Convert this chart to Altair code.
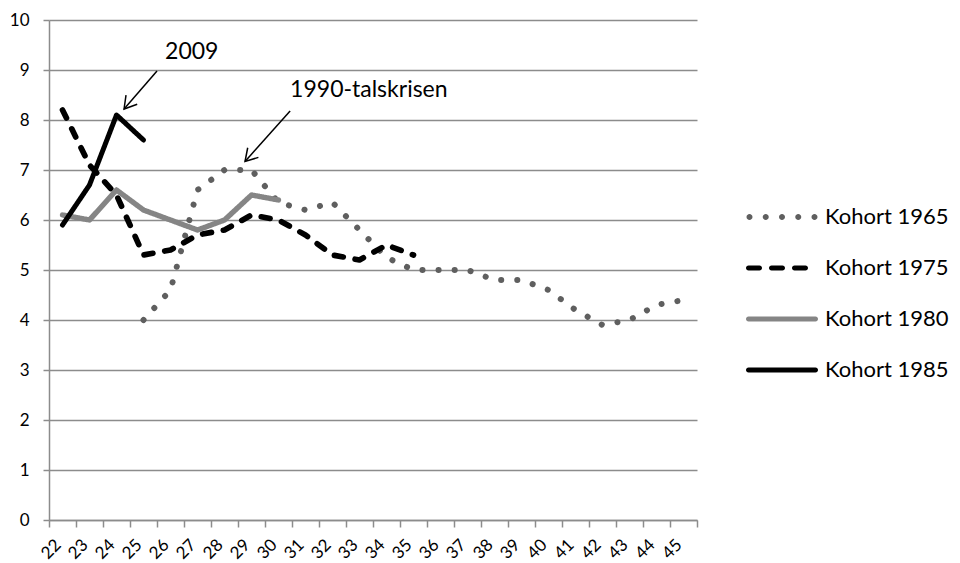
import altair as alt
import pandas as pd

# ---- data ----
series_names = ["Kohort 1965", "Kohort 1975", "Kohort 1980", "Kohort 1985"]

ages_1965 = list(range(25, 46))
vals_1965 = [4.0, 4.6, 6.6, 7.0, 7.0, 6.35, 6.2, 6.35, 5.8, 5.25, 5.0,
             5.0, 5.0, 4.8, 4.8, 4.6, 4.2, 3.9, 4.0, 4.3, 4.4]

ages_1975 = list(range(22, 36))
vals_1975 = [8.2, 7.1, 6.5, 5.3, 5.4, 5.7, 5.8, 6.1, 6.0, 5.7, 5.3, 5.2, 5.5, 5.3]

ages_1980 = list(range(22, 31))
vals_1980 = [6.1, 6.0, 6.6, 6.2, 6.0, 5.8, 6.0, 6.5, 6.4]

ages_1985 = list(range(22, 26))
vals_1985 = [5.9, 6.7, 8.1, 7.6]

y_ticks = list(range(0, 11))

# annotations (in data units)
ann_text = ["2009", "1990-talskrisen"]
ann_text_x = [25.8, 30.43]
ann_text_y = [9.36, 8.6]
ann_from_x = [25.5, 30.43]
ann_from_y = [8.98, 8.18]
ann_to_x = [24.28, 28.76]
ann_to_y = [8.22, 7.17]
ann_angle = [39, 42]

# ---- build tables ----
rows = []
for name, ages, vals in [
    (series_names[0], ages_1965, vals_1965),
    (series_names[1], ages_1975, vals_1975),
    (series_names[2], ages_1980, vals_1980),
    (series_names[3], ages_1985, vals_1985),
]:
    for a, v in zip(ages, vals):
        rows.append({"age": a, "value": v, "series": name})
df = pd.DataFrame(rows)

ann = pd.DataFrame({
    "text": ann_text, "tx": ann_text_x, "ty": ann_text_y,
    "x1": ann_from_x, "y1": ann_from_y, "x2": ann_to_x, "y2": ann_to_y,
    "angle": ann_angle,
})

FONT = "Lato"
GRID = "#8c8c8c"
colors = ["#5f5f5f", "#000000", "#858585", "#000000"]


# ---- legend swatch shapes (unit coords, 1 unit = 10 px) ----
def dot(cx, r):
    return (f"M{cx - r:.3f},0A{r},{r} 0 1,0 {cx + r:.3f},0"
            f"A{r},{r} 0 1,0 {cx - r:.3f},0Z")


def bar(x1, x2, h):
    return (f"M{x1 + h:.3f},{-h}H{x2 - h:.3f}A{h},{h} 0 0,1 {x2 - h:.3f},{h}"
            f"H{x1 + h:.3f}A{h},{h} 0 0,1 {x1 + h:.3f},{-h}Z")


shape_dotted = "".join(dot(c, 0.3) for c in [-3.25, -1.625, 0, 1.625, 3.25])
shape_dashed = bar(-3.6, -2.0, 0.25) + bar(-1.3, 0.3, 0.25) + bar(1.0, 2.6, 0.25)
shape_solid = bar(-3.6, 3.6, 0.25)

x_scale = alt.Scale(domain=[21.5, 45.5], nice=False, zero=False)
y_scale = alt.Scale(domain=[0, 10], nice=False)

x_tick_vals = [a - 0.5 for a in range(22, 47)]

x_axis = alt.Axis(
    values=x_tick_vals,
    tickCount=60,
    labelExpr="datum.value > 45 ? '' : format(datum.value + 0.5, 'd')",
    labelOffset=9,
    labelAngle=-45,
    labelAlign="right",
    labelBaseline="middle",
    labelPadding=15,
    labelOverlap=False,
    labelFlush=False,
    labelFont=FONT,
    labelFontSize=17,
    labelColor="black",
    tickSize=7,
    tickColor=GRID,
    tickWidth=1.5,
    domainColor=GRID,
    domainWidth=1.5,
    grid=False,
    title=None,
)

y_axis = alt.Axis(
    values=y_ticks,
    format="d",
    labelFont=FONT,
    labelFontSize=17,
    labelColor="black",
    labelPadding=14,
    tickSize=6,
    tickColor=GRID,
    tickWidth=1.5,
    domainColor=GRID,
    domainWidth=1.5,
    grid=True,
    gridColor=GRID,
    gridWidth=1.5,
    title=None,
)

legend_kw = dict(
    title=None,
    orient="none",
    legendX=722,
    legendY=186,
    symbolSize=400,
    symbolStrokeWidth=0,
    symbolOpacity=1,
    labelFont=FONT,
    labelFontSize=22,
    labelColor="black",
    labelOffset=32,
    rowPadding=29,
    padding=0,
)

color_scale = alt.Scale(domain=series_names, range=colors)
dash_scale = alt.Scale(domain=series_names,
                       range=[[0.1, 16], [9, 12], [1, 0], [1, 0]])
width_scale = alt.Scale(domain=series_names, range=[6, 5, 5, 5])
shape_scale = alt.Scale(domain=series_names,
                        range=[shape_dotted, shape_dashed, shape_solid, shape_solid])

lines = alt.Chart(df).mark_line(
    strokeCap="round", strokeJoin="round"
).encode(
    x=alt.X("age:Q", scale=x_scale, axis=x_axis),
    y=alt.Y("value:Q", scale=y_scale, axis=y_axis),
    color=alt.Color("series:N", scale=color_scale, legend=None),
    strokeDash=alt.StrokeDash("series:N", scale=dash_scale, legend=None),
    strokeWidth=alt.StrokeWidth("series:N", scale=width_scale, legend=None),
    order=alt.Order("age:Q"),
)

# legend-only layer (no visible points): supplies the legend swatches
legend_layer = alt.Chart(df).transform_filter("datum.age < 0").mark_point(
    filled=True, opacity=1
).encode(
    x=alt.X("age:Q", scale=x_scale),
    y=alt.Y("value:Q", scale=y_scale),
    color=alt.Color("series:N", scale=color_scale, legend=alt.Legend(**legend_kw)),
    shape=alt.Shape("series:N", scale=shape_scale, legend=alt.Legend(**legend_kw)),
)

arrow_lines = alt.Chart(ann).mark_rule(color="black", strokeWidth=1.5).encode(
    x=alt.X("x1:Q", scale=x_scale),
    y=alt.Y("y1:Q", scale=y_scale),
    x2="x2:Q",
    y2="y2:Q",
)

arrow_heads = alt.Chart(ann).mark_point(
    shape="M-0.6,-1L0,0L0.6,-1",
    filled=False,
    stroke="black",
    strokeWidth=1.5,
    size=576,
    opacity=1,
).encode(
    x=alt.X("x2:Q", scale=x_scale),
    y=alt.Y("y2:Q", scale=y_scale),
    angle=alt.Angle("angle:Q", scale=None),
)

labels = alt.Chart(ann).mark_text(
    align="left", baseline="middle", font=FONT, fontSize=23, color="black"
).encode(
    x=alt.X("tx:Q", scale=x_scale),
    y=alt.Y("ty:Q", scale=y_scale),
    text="text:N",
)

chart = alt.layer(lines, legend_layer, arrow_lines, arrow_heads, labels).resolve_legend(
    color="independent", shape="independent",
    strokeDash="independent", strokeWidth="independent",
).properties(
    width=648,
    height=500,
    padding={"left": 41, "top": 12, "right": 255, "bottom": 43},
    autosize=alt.AutoSizeParams(type="none"),
    background="white",
).configure_view(stroke=None)

chart.save("out.html", embed_options={"renderer": "svg", "actions": False})
